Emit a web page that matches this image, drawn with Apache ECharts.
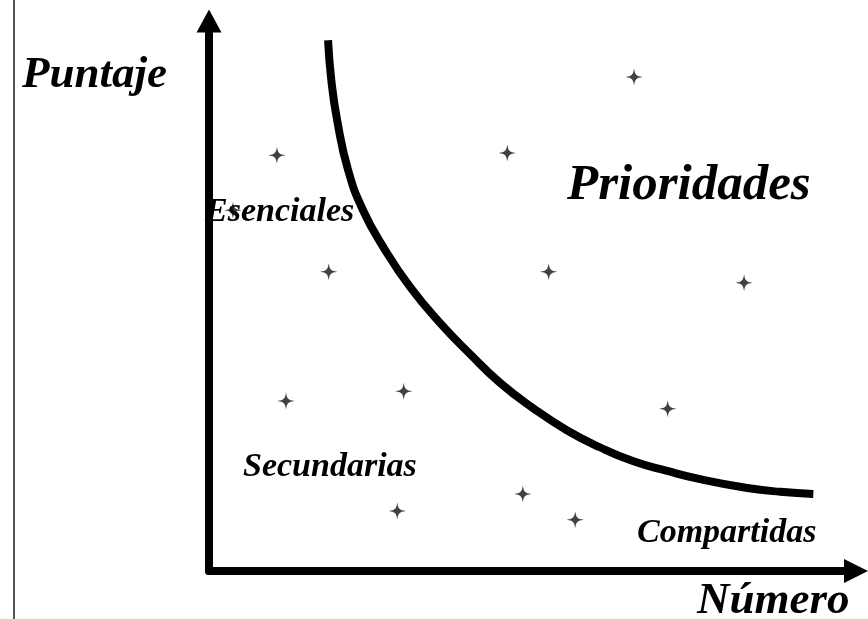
<!DOCTYPE html>
<html>
<head>
<meta charset="utf-8">
<script src="https://cdn.jsdelivr.net/npm/echarts@6/dist/echarts.min.js"></script>
<style>
  html, body { margin: 0; padding: 0; background: #fff; }
  #chart-container { width: 868px; height: 619px; }
</style>
</head>
<body>
<div id="chart-container"></div>
<script>
// curve (x = número, y = puntaje, both 0..100)
var curveX = [18.4, 18.9, 19.8, 21.5, 23.8, 27.2, 31.1, 35.7, 40.3, 45.0, 50.1, 55.3, 60.4, 65.5, 70.8, 75.9, 83.2, 88.3, 93.4];
var curveY = [96.5, 89.3, 82.0, 72.9, 65.6, 58.4, 51.6, 45.1, 39.5, 34.2, 29.6, 25.6, 22.5, 20.0, 18.2, 16.7, 15.1, 14.4, 14.0];

// the little stars
var itemX = [10.5, 3.7, 46.1, 65.7, 18.5, 52.5, 82.7, 11.9, 30.1, 70.9, 48.5, 29.1, 56.6];
var itemY = [75.6, 65.6, 76.0, 89.8, 54.4, 54.4, 52.4, 30.9, 32.7, 29.5, 14.0, 10.9, 9.3];

var starPath = "path://M0,-7 C0.9,-1.6 1.6,-0.9 7,0 C1.6,0.9 0.9,1.6 0,7 C-0.9,1.6 -1.6,0.9 -7,0 C-1.6,-0.9 -0.9,-1.6 0,-7Z";
var labelFont = "'Liberation Serif', 'Times New Roman', serif";

var dom = document.getElementById("chart-container");
var myChart = echarts.init(dom, null, {
  renderer: "canvas",
  useDirtyRect: false,
});

function label(text, x, y, size) {
  return {
    type: "text",
    left: x,
    top: y,
    style: {
      text: text,
      fill: "#000",
      font: "italic bold " + size + "px " + labelFont,
    },
  };
}

var option = {
  backgroundColor: "#fff",
  animation: false,
  grid: {
    left: 209,
    right: 12,
    top: 21,
    bottom: 48,
  },
  xAxis: {
    type: "value",
    min: 0,
    max: 100,
    axisLine: {
      show: true,
      onZero: false,
      symbol: ["none", "triangle"],
      symbolSize: [24, 24],
      lineStyle: { color: "#000", width: 8 },
    },
    axisTick: { show: false },
    axisLabel: { show: false },
    splitLine: { show: false },
  },
  yAxis: {
    type: "value",
    min: 0,
    max: 100,
    axisLine: {
      show: true,
      onZero: false,
      symbol: ["none", "triangle"],
      symbolSize: [25, 23],
      lineStyle: { color: "#000", width: 8 },
    },
    axisTick: { show: false },
    axisLabel: { show: false },
    splitLine: { show: false },
  },
  graphic: [
    {
      type: "line",
      shape: { x1: 14, y1: 0, x2: 14, y2: 619 },
      style: { stroke: "#555", lineWidth: 2 },
    },
    label("Puntaje", 22, 53, 45),
    label("Prioridades", 567, 160, 51),
    label("Esenciales", 205, 195, 34),
    label("Secundarias", 243, 450, 34),
    label("Compartidas", 637, 516, 34),
    label("Número", 697, 579, 45),
  ],
  series: [
    {
      type: "line",
      data: curveX.map(function (x, i) { return [x, curveY[i]]; }),
      smooth: 0.5,
      symbol: "none",
      lineStyle: { color: "#000", width: 8 },
      z: 3,
    },
    {
      type: "scatter",
      data: itemX.map(function (x, i) { return [x, itemY[i]]; }),
      symbol: starPath,
      symbolSize: 17,
      itemStyle: { color: "#111" },
      z: 4,
    },
  ],
};

if (option && typeof option === "object") {
  myChart.setOption(option);
}
window.addEventListener("resize", myChart.resize);
</script>
</body>
</html>
